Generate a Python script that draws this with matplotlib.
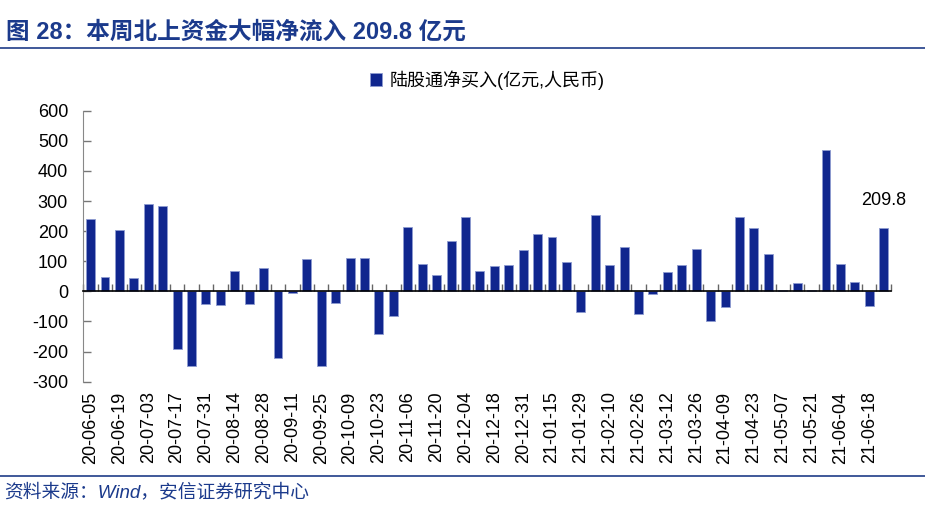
import numpy as np
import matplotlib.pyplot as plt

plt.rcParams['font.family'] = ['Liberation Sans', 'Noto Sans CJK SC']
plt.rcParams['axes.unicode_minus'] = False

###### 数据 ######
tick_labels = ['20-06-05', '20-06-19', '20-07-03', '20-07-17', '20-07-31', '20-08-14',
               '20-08-28', '20-09-11', '20-09-25', '20-10-09', '20-10-23', '20-11-06',
               '20-11-20', '20-12-04', '20-12-18', '20-12-31', '21-01-15', '21-01-29',
               '21-02-10', '21-02-26', '21-03-12', '21-03-26', '21-04-09', '21-04-23',
               '21-05-07', '21-05-21', '21-06-04', '21-06-18']

net_buy = [240, 49, 203, 46, 289, 282, -191, -248, -43, -44,
           66, -41, 79, -222, -5, 107, -247, -40, 112, 110,
           -141, -83, 214, 92, 54, 168, 246, 69, 84, 86,
           136, 191, 179, 96, -67, 252, 87, 146, -76, -8,
           65, 87, 141, -100, -53, 247, 210, 123, 5, 27,
           4, 468, 90, 30, -50, 209.8]

legend_label = '陆股通净买入(亿元,人民币)'
title = '图 28：本周北上资金大幅净流入 209.8 亿元'
source = '资料来源：Wind，安信证券研究中心'

blue_bar = '#10268E'
navy = '#1B3A8C'

###### 画图 ######
fig = plt.figure(figsize=(9.25, 5.11), dpi=100)
ax = fig.add_axes([0.0901, 0.253, 0.873, 0.5304])

x = np.arange(len(net_buy))
ax.bar(x, net_buy, width=0.62, color=blue_bar, edgecolor='#8d9bd0', linewidth=0.6,
       label=legend_label, zorder=2)

ax.set_xlim(-0.5, len(net_buy) - 0.5)
ax.set_ylim(-300, 600)
ax.set_yticks(np.arange(-300, 601, 100))
ax.tick_params(axis='y', direction='in', length=6, width=1, color='#777777',
               labelsize=13, pad=11)

# 零轴 + 类别分隔刻度
ax.spines['bottom'].set_position(('data', 0))
ax.spines['bottom'].set_color('black')
ax.spines['bottom'].set_linewidth(1.2)
ax.spines['bottom'].set_zorder(3)
ax.set_xticks(np.arange(-0.5, len(net_buy), 1.0))
ax.tick_params(axis='x', direction='in', length=5, width=1, color='#666666',
               labelbottom=False)
ax.spines['top'].set_visible(False)
ax.spines['right'].set_visible(False)
ax.spines['left'].set_color('#888888')

# 日期标签放在底部
sec = ax.secondary_xaxis('bottom')
sec.set_xticks(x[::2], tick_labels, rotation=90, fontsize=13)
sec.tick_params(length=0, pad=7)
sec.spines['bottom'].set_visible(False)

# 最后一根柱子的数值
ax.annotate('209.8', (x[-1], net_buy[-1]), xytext=(0, 14), textcoords='offset points',
            ha='center', va='bottom', fontsize=13)

fig.legend(loc='center', bbox_to_anchor=(487 / 925, 1 - 80 / 511), frameon=False,
           fontsize=13, handlelength=0.7, handleheight=0.7, handletextpad=0.4)

# 标题和来源
fig.text(0.006, 1 - 32 / 511, title, fontsize=17, fontweight='bold', color=navy,
         va='center', ha='left')
fig.add_artist(plt.Line2D([0, 1], [1 - 48 / 511, 1 - 48 / 511], color='#1F3C88', lw=1.2))
fig.add_artist(plt.Line2D([0, 1], [1 - 476 / 511, 1 - 476 / 511], color='#1F3C88', lw=1.2))
fig.text(0.004, 1 - 492 / 511, source, fontsize=13.5, color=navy, style='italic',
         va='center', ha='left')

fig.savefig('out.png', dpi=100)
